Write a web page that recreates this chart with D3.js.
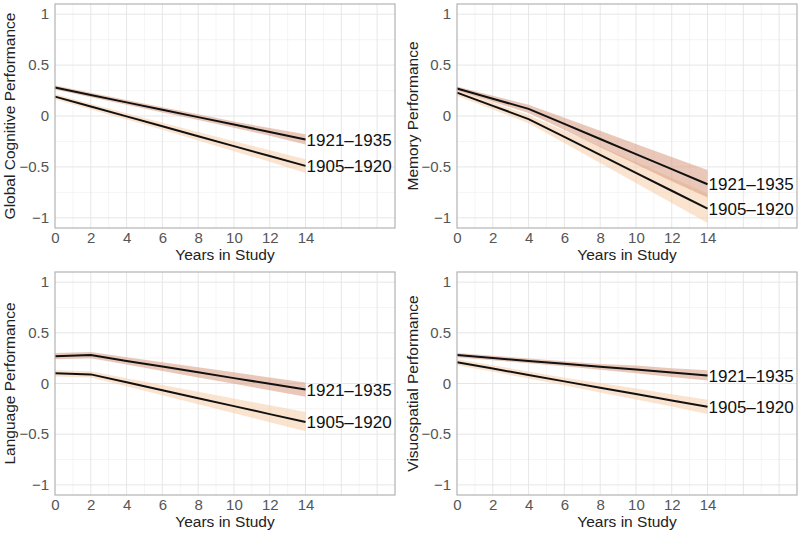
<!DOCTYPE html>
<html><head><meta charset="utf-8">
<script src="https://cdn.jsdelivr.net/npm/d3@7"></script>
<style>
body{margin:0;background:#fff;}
svg{display:block;font-family:"Liberation Sans",Arial,sans-serif;}
</style></head>
<body>
<svg id="c" width="800" height="533"></svg>
<script>
const years = [0,2,4,6,8,10,12,14];
const xTicks = [0,2,4,6,8,10,12,14];
const yTicks = [-1,-0.5,0,0.5,1];
const yTickLabels = ["\u22121","\u22120.5","0","0.5","1"];
const cohorts = ["1921\u20131935","1905\u20131920"];
const panelTitles = ["Global Cognitive Performance","Memory Performance","Language Performance","Visuospatial Performance"];

// Global
const global1921 = [0.280,0.207,0.134,0.061,-0.011,-0.084,-0.157,-0.230];
const global1921Lo = [0.260,0.185,0.110,0.035,-0.040,-0.115,-0.195,-0.280];
const global1921Hi = [0.300,0.229,0.158,0.087,0.018,-0.053,-0.119,-0.180];
const global1905 = [0.190,0.093,-0.004,-0.101,-0.199,-0.296,-0.393,-0.490];
const global1905Lo = [0.165,0.065,-0.035,-0.135,-0.240,-0.345,-0.450,-0.560];
const global1905Hi = [0.215,0.121,0.027,-0.067,-0.158,-0.247,-0.336,-0.425];
// Memory
const memory1921 = [0.270,0.170,0.070,-0.078,-0.226,-0.374,-0.522,-0.670];
const memory1921Lo = [0.250,0.140,0.030,-0.138,-0.306,-0.474,-0.642,-0.800];
const memory1921Hi = [0.290,0.200,0.110,-0.018,-0.146,-0.274,-0.402,-0.530];
const memory1905 = [0.230,0.100,-0.030,-0.206,-0.382,-0.558,-0.734,-0.910];
const memory1905Lo = [0.200,0.065,-0.070,-0.266,-0.462,-0.658,-0.854,-1.050];
const memory1905Hi = [0.260,0.135,0.010,-0.144,-0.298,-0.452,-0.606,-0.760];
// Language
const language1921 = [0.270,0.280,0.223,0.167,0.110,0.053,-0.003,-0.060];
const language1921Lo = [0.240,0.250,0.187,0.123,0.060,-0.003,-0.067,-0.130];
const language1921Hi = [0.300,0.310,0.260,0.210,0.160,0.110,0.060,0.010];
const language1905 = [0.100,0.090,0.012,-0.067,-0.145,-0.223,-0.302,-0.380];
const language1905Lo = [0.070,0.060,-0.028,-0.117,-0.205,-0.293,-0.382,-0.470];
const language1905Hi = [0.130,0.120,0.053,-0.015,-0.082,-0.148,-0.215,-0.280];
// Visuospatial
const visuo1921 = [0.280,0.251,0.223,0.194,0.166,0.137,0.109,0.080];
const visuo1921Lo = [0.260,0.230,0.200,0.170,0.135,0.100,0.065,0.030];
const visuo1921Hi = [0.300,0.273,0.247,0.220,0.193,0.177,0.150,0.130];
const visuo1905 = [0.210,0.147,0.084,0.021,-0.041,-0.104,-0.167,-0.230];
const visuo1905Lo = [0.180,0.115,0.050,-0.018,-0.088,-0.158,-0.228,-0.300];
const visuo1905Hi = [0.240,0.179,0.118,0.057,0.005,-0.050,-0.105,-0.160];

const panelData = [
  [[global1921,global1921Lo,global1921Hi],[global1905,global1905Lo,global1905Hi]],
  [[memory1921,memory1921Lo,memory1921Hi],[memory1905,memory1905Lo,memory1905Hi]],
  [[language1921,language1921Lo,language1921Hi],[language1905,language1905Lo,language1905Hi]],
  [[visuo1921,visuo1921Lo,visuo1921Hi],[visuo1905,visuo1905Lo,visuo1905Hi]]
];

const bandFill = ["#d99a80","#f8c9a0"];
const bandOpacity = [0.55,0.5];

const svg = d3.select("#c");
const layout = [
  {x0:55,x1:395,y0:4,y1:228,titleX:15},
  {x0:457,x1:797,y0:4,y1:228,titleX:418},
  {x0:55,x1:395,y0:272,y1:495,titleX:15},
  {x0:457,x1:797,y0:272,y1:495,titleX:418}
];

layout.forEach((L,i)=>{
  const x = d3.scaleLinear().domain([0,19]).range([L.x0,L.x1]);
  const y = d3.scaleLinear().domain([-1.1,1.1]).range([L.y1,L.y0]);
  const g = svg.append("g");
  // minor grid
  d3.range(1,19,2).forEach(v=>g.append("line").attr("x1",x(v)).attr("x2",x(v)).attr("y1",L.y0).attr("y2",L.y1).attr("stroke","#f2f2f2").attr("stroke-width",0.8));
  [-0.75,-0.25,0.25,0.75].forEach(v=>g.append("line").attr("x1",L.x0).attr("x2",L.x1).attr("y1",y(v)).attr("y2",y(v)).attr("stroke","#f2f2f2").attr("stroke-width",0.8));
  // major grid
  d3.range(2,19,2).forEach(v=>g.append("line").attr("x1",x(v)).attr("x2",x(v)).attr("y1",L.y0).attr("y2",L.y1).attr("stroke","#e6e6e6").attr("stroke-width",1));
  yTicks.forEach(v=>g.append("line").attr("x1",L.x0).attr("x2",L.x1).attr("y1",y(v)).attr("y2",y(v)).attr("stroke","#e6e6e6").attr("stroke-width",1));

  const area = d3.area().x((d,j)=>x(years[j])).y0(d=>y(d[0])).y1(d=>y(d[1]));
  const line = d3.line().x((d,j)=>x(years[j])).y(d=>y(d));
  const series = panelData[i];
  [1,0].forEach(k=>{
    const s = series[k];
    const pts = s[1].map((lo,j)=>[lo,s[2][j]]);
    g.append("path").attr("d",area(pts)).attr("fill",bandFill[k]).attr("fill-opacity",bandOpacity[k]);
  });
  [1,0].forEach(k=>{
    g.append("path").attr("d",line(series[k][0])).attr("fill","none").attr("stroke","#111").attr("stroke-width",2);
  });
  series.forEach((s,k)=>{
    g.append("text").attr("x",x(14)+1).attr("y",y(s[0][7])).attr("dy","0.36em")
      .attr("font-size",17).attr("fill","#111").text(cohorts[k]);
  });
  g.append("rect").attr("x",L.x0).attr("y",L.y0).attr("width",L.x1-L.x0).attr("height",L.y1-L.y0)
    .attr("fill","none").attr("stroke","#b3b3b3").attr("stroke-width",1.2);
  const xa = g.append("g").attr("transform",`translate(0,${L.y1})`)
    .call(d3.axisBottom(x).tickValues(xTicks).tickSize(0).tickPadding(4).tickFormat(d3.format("d")));
  xa.select(".domain").remove();
  xa.selectAll("text").attr("font-size",15).attr("fill","#555").attr("font-family","Liberation Sans, Arial, sans-serif");
  const ya = g.append("g").attr("transform",`translate(${L.x0},0)`)
    .call(d3.axisLeft(y).tickValues(yTicks).tickSize(0).tickPadding(6).tickFormat((d,j)=>yTickLabels[j]));
  ya.select(".domain").remove();
  ya.selectAll("text").attr("font-size",15).attr("fill","#555").attr("font-family","Liberation Sans, Arial, sans-serif");
  g.append("text").attr("x",(L.x0+L.x1)/2).attr("y",L.y1+32).attr("text-anchor","middle")
    .attr("font-size",15.5).attr("fill","#222").text("Years in Study");
  g.append("text").attr("transform",`translate(${L.titleX},${(L.y0+L.y1)/2}) rotate(-90)`)
    .attr("text-anchor","middle").attr("font-size",15.5).attr("fill","#222").text(panelTitles[i]);
});
</script>
</body></html>
